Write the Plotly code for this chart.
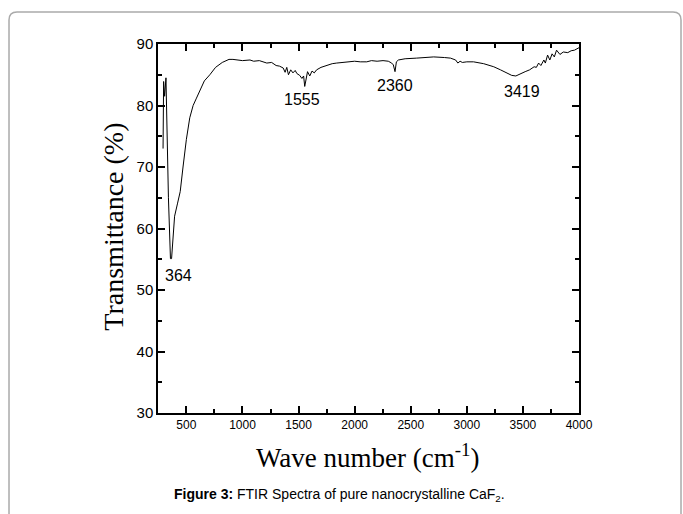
import plotly.graph_objects as go

wavenumber = [292, 297, 306, 318, 340, 352, 358, 368, 378, 395, 420, 445, 470, 500, 530, 560, 590,
              620, 660, 709, 760, 820, 880, 915, 960, 1000, 1067, 1100, 1150, 1217, 1260, 1300,
              1330, 1363, 1380, 1395, 1410, 1430, 1450, 1470, 1485, 1510, 1530, 1545, 1555, 1565,
              1580, 1600, 1620, 1640, 1661, 1700, 1750, 1800, 1840, 1900, 1950, 2000, 2050, 2108,
              2150, 2200, 2253, 2300, 2330, 2345, 2360, 2372, 2390, 2450, 2550, 2650, 2705, 2800,
              2855, 2900, 2920, 2940, 2960, 3000, 3060, 3150, 3240, 3300, 3350, 3400, 3437, 3480,
              3520, 3560, 3600, 3620, 3640, 3660, 3687, 3700, 3720, 3740, 3760, 3780, 3800, 3830,
              3860, 3900, 3930, 3960, 4000]
transmittance = [73.0, 83.9, 81.5, 84.5, 65.0, 56.0, 55.1, 55.1, 58.5, 62.0, 64.0, 66.0, 70.0,
                 74.5, 78.0, 80.0, 81.2, 82.3, 84.0, 85.0, 86.2, 87.0, 87.5, 87.5, 87.4, 87.3,
                 87.4, 87.2, 87.3, 86.9, 87.0, 86.5, 86.4, 86.1, 85.4, 86.2, 85.0, 85.8, 85.3,
                 85.7, 85.2, 84.9, 84.4, 84.8, 83.1, 84.4, 85.5, 84.8, 85.6, 85.3, 85.8, 86.2,
                 86.5, 86.8, 86.9, 87.0, 87.1, 87.2, 87.1, 87.1, 87.3, 87.2, 87.3, 87.2, 86.9,
                 86.6, 85.5, 87.1, 87.4, 87.6, 87.7, 87.8, 87.9, 87.8, 87.7, 87.4, 86.9, 87.2,
                 87.0, 87.1, 87.1, 86.8, 86.3, 85.8, 85.4, 84.9, 84.8, 85.1, 85.5, 85.8, 86.3,
                 86.2, 86.9, 86.5, 87.4, 86.9, 88.2, 87.4, 88.4, 87.9, 89.0, 88.3, 88.7, 88.6,
                 88.9, 89.0, 89.4]

peak_labels = ["364", "1555", "2360", "3419"]
peak_label_x = [432, 1535, 2360, 3492]
peak_label_y = [52.4, 81.0, 83.2, 82.3]

x_ticks = [500, 1000, 1500, 2000, 2500, 3000, 3500, 4000]
y_ticks = [30, 40, 50, 60, 70, 80, 90]

fig = go.Figure()
fig.add_trace(go.Scatter(x=wavenumber, y=transmittance, mode="lines",
                         line=dict(color="black", width=1), showlegend=False))

for t, xv, yv in zip(peak_labels, peak_label_x, peak_label_y):
    fig.add_annotation(x=xv, y=yv, text=t, showarrow=False,
                       xanchor="center", yanchor="middle",
                       font=dict(family="Liberation Sans, Arial", size=16, color="black"))

axis_common = dict(showgrid=False, zeroline=False, showline=True, linecolor="black",
                   linewidth=1.5, mirror="ticks", ticks="inside", ticklen=7,
                   tickcolor="black", tickwidth=1.5)

fig.update_xaxes(range=[247, 4000], tickvals=x_ticks,
                 minor=dict(ticks="inside", ticklen=4, dtick=250, tick0=0, tickcolor="black"),
                 tickfont=dict(family="Liberation Sans, Arial", size=12, color="black"),
                 **axis_common)
fig.update_yaxes(range=[30, 90], tickvals=y_ticks,
                 minor=dict(ticks="inside", ticklen=4, dtick=5, tick0=0, tickcolor="black"),
                 tickfont=dict(family="Liberation Sans, Arial", size=15, color="black"),
                 **axis_common)

fig.add_annotation(xref="paper", yref="paper", x=-0.1045, y=0.505, textangle=-90,
                   xanchor="center", yanchor="middle",
                   text="Transmittance (%)", showarrow=False,
                   font=dict(family="Liberation Serif, Times New Roman", size=28, color="black"))
fig.add_annotation(xref="paper", yref="paper", x=0.4988, y=-0.168,
                   xanchor="center", yanchor="bottom",
                   text="Wave number (cm<sup>-1</sup>)", showarrow=False,
                   font=dict(family="Liberation Serif, Times New Roman", size=27, color="black"))
fig.add_annotation(xref="paper", yref="paper", x=0.432, y=-0.252,
                   xanchor="center", yanchor="bottom",
                   text="<b>Figure 3:</b> FTIR Spectra of pure nanocrystalline CaF<sub>2</sub>.",
                   showarrow=False,
                   font=dict(family="Liberation Sans, Arial", size=14, color="black"))

# rounded frame around the figure
fig.add_shape(type="path", xref="paper", yref="paper",
              path="M -0.3539,-0.30 L -0.3539,1.065 Q -0.3539,1.0867 -0.3349,1.0867 "
                   "L 1.2233,1.0867 Q 1.2423,1.0867 1.2423,1.065 L 1.2423,-0.30",
              line=dict(color="#aaaaaa", width=1.5))

fig.update_layout(width=683, height=514,
                  margin=dict(l=158, r=104, t=44, b=101, autoexpand=False),
                  plot_bgcolor="white", paper_bgcolor="white")

fig.write_html("out.html", config={"displayModeBar": False},
               post_script="document.body.style.margin='0';document.body.style.overflow='hidden';")
